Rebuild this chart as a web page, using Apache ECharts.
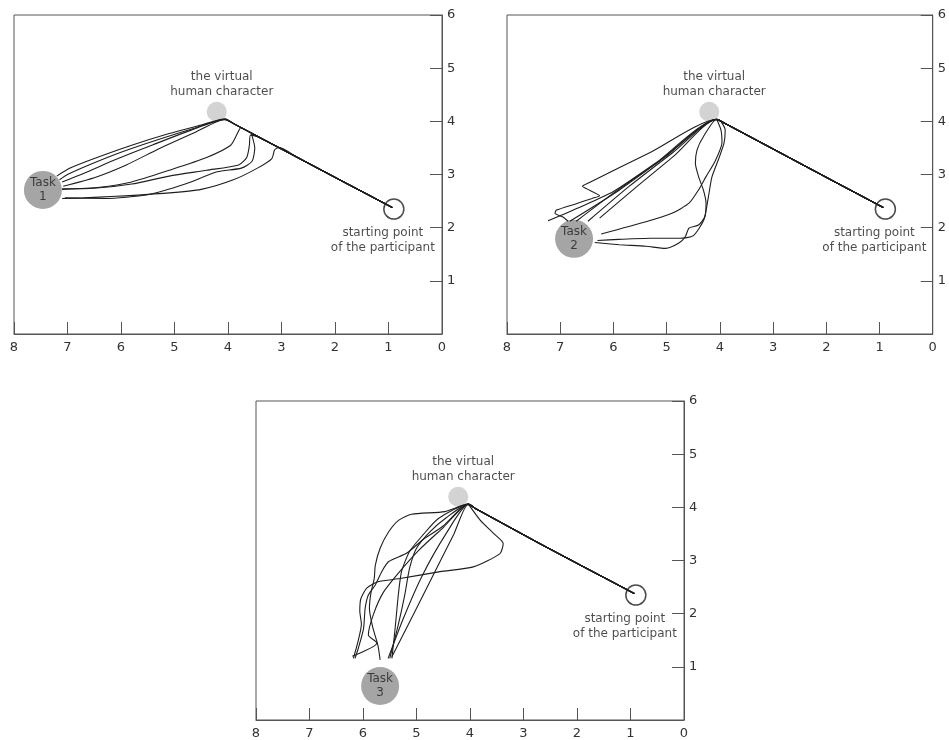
<!DOCTYPE html>
<html>
<head>
<meta charset="utf-8">
<script src="https://cdn.jsdelivr.net/npm/echarts@6/dist/echarts.min.js"></script>
<style>
  html, body { margin: 0; padding: 0; background: #fff; }
  #chart { width: 949px; height: 740px; }
</style>
</head>
<body>
<div id="chart"></div>
<script>
// Floor plan in metres: x runs from 8 (left) to 0 (right), y from 0 to 6.
const xRange = [0, 8];
const yRange = [0, 6];

// Landmarks of each task
const startPoints = [[0.90, 2.35], [0.89, 2.35], [0.90, 2.35]];
const humanPoints = [[4.21, 4.18], [4.20, 4.18], [4.22, 4.20]];
const taskPoints  = [[7.46, 2.71], [6.74, 1.79], [5.68, 0.64]];
const taskNames   = ['Task\n1', 'Task\n2', 'Task\n3'];
const humanText   = 'the virtual\nhuman character';
const startText   = 'starting point\nof the participant';

// Where every walk begins, and a point on the common first leg
const walkOrigin = [0.93, 2.38];
const firstLeg = [[1.8, 2.84], [2.7, 3.32]];

// Walks of task 1 (points after the first leg)
const task1Walks = [
  [[3.9, 3.96], [4.05, 4.05], [4.5, 3.93], [5.1, 3.77], [5.8, 3.55], [6.5, 3.3], [6.95, 3.12], [7.2, 2.97]],
  [[3.9, 3.96], [4.06, 4.04], [4.6, 3.88], [5.3, 3.66], [6.0, 3.42], [6.6, 3.18], [7.0, 3.0], [7.15, 2.9]],
  [[3.9, 3.96], [4.07, 4.03], [4.7, 3.83], [5.4, 3.56], [6.1, 3.28], [6.7, 3.02], [7.1, 2.86]],
  [[3.9, 3.96], [4.05, 4.04], [4.6, 3.8], [5.3, 3.48], [5.9, 3.18], [6.5, 2.94], [7.08, 2.78]],
  [[3.6, 3.8], [3.76, 3.88], [3.82, 3.78], [3.95, 3.55], [4.4, 3.32], [5.1, 3.08], [5.8, 2.86], [6.4, 2.76], [7.1, 2.72]],
  [[3.45, 3.71], [3.58, 3.74], [3.6, 3.55], [3.65, 3.32], [3.8, 3.18], [4.4, 3.08], [5.1, 2.97], [5.8, 2.82], [6.5, 2.74], [7.1, 2.73]],
  [[3.5, 3.74], [3.56, 3.76], [3.5, 3.5], [3.55, 3.25], [3.75, 3.12], [4.2, 3.05], [4.8, 2.82], [5.5, 2.62], [6.3, 2.55], [7.05, 2.56]],
  [[3.05, 3.51], [3.13, 3.46], [3.18, 3.3], [3.45, 3.12], [3.9, 2.9], [4.5, 2.72], [5.15, 2.65], [6.1, 2.59], [6.7, 2.56], [7.1, 2.55]]
];

// Walks of task 2
const task2Walks = [
  [[3.9, 3.96], [4.06, 4.04], [5.0, 3.35], [5.9, 2.7], [6.82, 2.12]],
  [[3.9, 3.96], [4.07, 4.03], [5.1, 3.28], [6.0, 2.65], [6.70, 2.12]],
  [[3.9, 3.96], [4.05, 4.04], [4.9, 3.4], [5.7, 2.78], [6.48, 2.12]],
  [[3.9, 3.96], [4.08, 4.03], [4.85, 3.36], [5.6, 2.74], [6.26, 2.18]],
  [[3.9, 3.96], [4.06, 4.04], [5.3, 3.42], [6.45, 2.85], [6.58, 2.78], [6.5, 2.73], [6.26, 2.6], [6.4, 2.55], [6.7, 2.45], [7.07, 2.33], [7.1, 2.27], [6.95, 2.2], [6.85, 2.12]],
  [[3.9, 3.96], [4.06, 4.04], [5.2, 3.22], [6.0, 2.68], [6.6, 2.4], [7.23, 2.13]],
  [[3.9, 3.96], [4.06, 4.04], [3.98, 3.84], [3.96, 3.6], [4.08, 3.27], [4.26, 2.96], [4.40, 2.71], [4.58, 2.46], [4.90, 2.27], [5.39, 2.11], [6.23, 1.88]],
  [[3.9, 3.96], [4.06, 4.04], [4.31, 3.71], [4.43, 3.46], [4.46, 3.21], [4.40, 2.96], [4.31, 2.71], [4.26, 2.46], [4.28, 2.21], [4.40, 2.05], [4.58, 1.99], [4.65, 1.83], [4.77, 1.71], [5.02, 1.61], [5.39, 1.65], [5.89, 1.68], [6.35, 1.72]],
  [[3.85, 3.93], [3.98, 4.0], [3.9, 3.84], [3.92, 3.6], [4.02, 3.3], [4.15, 2.95], [4.22, 2.55], [4.3, 2.15], [4.5, 1.85], [4.75, 1.8], [5.3, 1.8], [5.9, 1.78], [6.3, 1.76]]
];

// Walks of task 3
const task3Walks = [
  [[3.9, 3.98], [4.03, 4.06], [4.47, 3.92], [5.09, 3.87], [5.33, 3.76], [5.52, 3.54], [5.68, 3.23], [5.77, 2.91], [5.79, 2.66], [5.85, 2.4], [5.88, 2.1], [5.82, 1.75], [5.72, 1.4], [5.68, 1.13]],
  [[3.9, 3.98], [4.03, 4.06], [3.81, 3.76], [3.55, 3.5], [3.38, 3.32], [3.44, 3.13], [3.94, 2.88], [4.56, 2.79], [5.31, 2.66], [5.72, 2.6], [5.93, 2.48], [6.04, 2.28], [6.06, 2.05], [6.03, 1.8], [6.09, 1.49], [6.18, 1.16]],
  [[3.9, 3.98], [4.03, 4.06], [4.5, 3.65], [4.87, 3.4], [5.18, 3.14], [5.52, 2.98], [5.65, 2.79], [5.77, 2.54], [5.9, 2.35], [5.96, 2.1], [5.99, 1.72], [6.09, 1.34], [6.15, 1.16]],
  [[3.9, 3.98], [4.03, 4.06], [4.5, 3.62], [4.95, 3.2], [5.35, 2.75], [5.62, 2.4], [5.8, 2.0], [5.9, 1.6], [5.74, 1.45], [6.2, 1.2]],
  [[3.9, 3.98], [4.03, 4.06], [4.45, 3.5], [4.9, 2.7], [5.25, 1.9], [5.53, 1.16]],
  [[3.9, 3.98], [4.04, 4.05], [4.3, 3.5], [4.75, 2.6], [5.15, 1.8], [5.46, 1.19]],
  [[3.9, 3.98], [4.03, 4.06], [4.59, 3.79], [4.88, 3.48], [5.13, 3.17], [5.28, 2.79], [5.34, 2.35], [5.40, 1.72], [5.46, 1.16]],
  [[3.9, 3.98], [4.03, 4.06], [4.45, 3.8], [4.75, 3.54], [5.0, 3.23], [5.13, 2.85], [5.22, 2.35], [5.35, 1.75], [5.5, 1.16]]
];

const allWalks = [task1Walks, task2Walks, task3Walks];

const FONT = 'DejaVu Sans';
const INK = '#1e1e1e';
const FRAME = '#555';

const gridBoxes = [
  { left: 14,  top: 15,  width: 428, height: 319 },
  { left: 507, top: 15,  width: 429, height: 319 },
  { left: 256, top: 401, width: 428, height: 319 }
];

const grids = [], xAxes = [], yAxes = [], series = [];

gridBoxes.forEach((box, i) => {
  grids.push(Object.assign({ show: true, borderColor: FRAME, borderWidth: 1, backgroundColor: '#fff' }, box));

  xAxes.push({
    gridIndex: i, type: 'value', min: xRange[0], max: xRange[1], interval: 1,
    inverse: true, position: 'bottom',
    axisLine: { show: true, lineStyle: { color: FRAME, width: 1 } },
    axisTick: { show: true, inside: true, length: 12, lineStyle: { color: FRAME, width: 1 } },
    axisLabel: { margin: 7, color: '#333', fontFamily: FONT, fontSize: 13 },
    splitLine: { show: false }
  });

  yAxes.push({
    gridIndex: i, type: 'value', min: yRange[0], max: yRange[1], interval: 1,
    position: 'right',
    axisLine: { show: true, lineStyle: { color: FRAME, width: 1 } },
    axisTick: { show: true, inside: true, length: 12, lineStyle: { color: FRAME, width: 1 } },
    axisLabel: { margin: 5, color: '#333', fontFamily: FONT, fontSize: 13, showMinLabel: false },
    splitLine: { show: false }
  });

  // task target
  series.push({
    type: 'scatter', xAxisIndex: i, yAxisIndex: i, z: 2, silent: true,
    symbolSize: 38,
    itemStyle: { color: '#8e8e8e' },
    label: { show: true, position: 'inside', formatter: taskNames[i], color: INK, fontFamily: FONT, fontSize: 12, lineHeight: 14 },
    data: [taskPoints[i]]
  });

  // virtual human
  series.push({
    type: 'scatter', xAxisIndex: i, yAxisIndex: i, z: 2, silent: true,
    symbolSize: 20,
    itemStyle: { color: '#c8c8c8' },
    label: { show: true, position: 'top', distance: 2, offset: [5, 0], formatter: humanText, color: INK, fontFamily: FONT, fontSize: 12, lineHeight: 15, align: 'center' },
    data: [humanPoints[i]]
  });

  // starting point
  series.push({
    type: 'scatter', xAxisIndex: i, yAxisIndex: i, z: 2, silent: true,
    symbolSize: 20,
    itemStyle: { color: '#fff', borderColor: INK, borderWidth: 1.5 },
    label: { show: true, position: 'bottom', distance: 6, offset: [-11, 0], formatter: startText, color: INK, fontFamily: FONT, fontSize: 12, lineHeight: 15, align: 'center' },
    data: [startPoints[i]]
  });

  // walking paths
  allWalks[i].forEach(walk => {
    series.push({
      type: 'line', xAxisIndex: i, yAxisIndex: i, z: 3, silent: true,
      showSymbol: false, smooth: 0.22,
      lineStyle: { color: INK, width: 1.1 },
      data: [walkOrigin].concat(firstLeg, walk)
    });
  });
});

const chart = echarts.init(document.getElementById('chart'), null, { renderer: 'canvas' });
chart.setOption({
  animation: false,
  backgroundColor: '#fff',
  grid: grids,
  xAxis: xAxes,
  yAxis: yAxes,
  series: series
});
</script>
</body>
</html>
